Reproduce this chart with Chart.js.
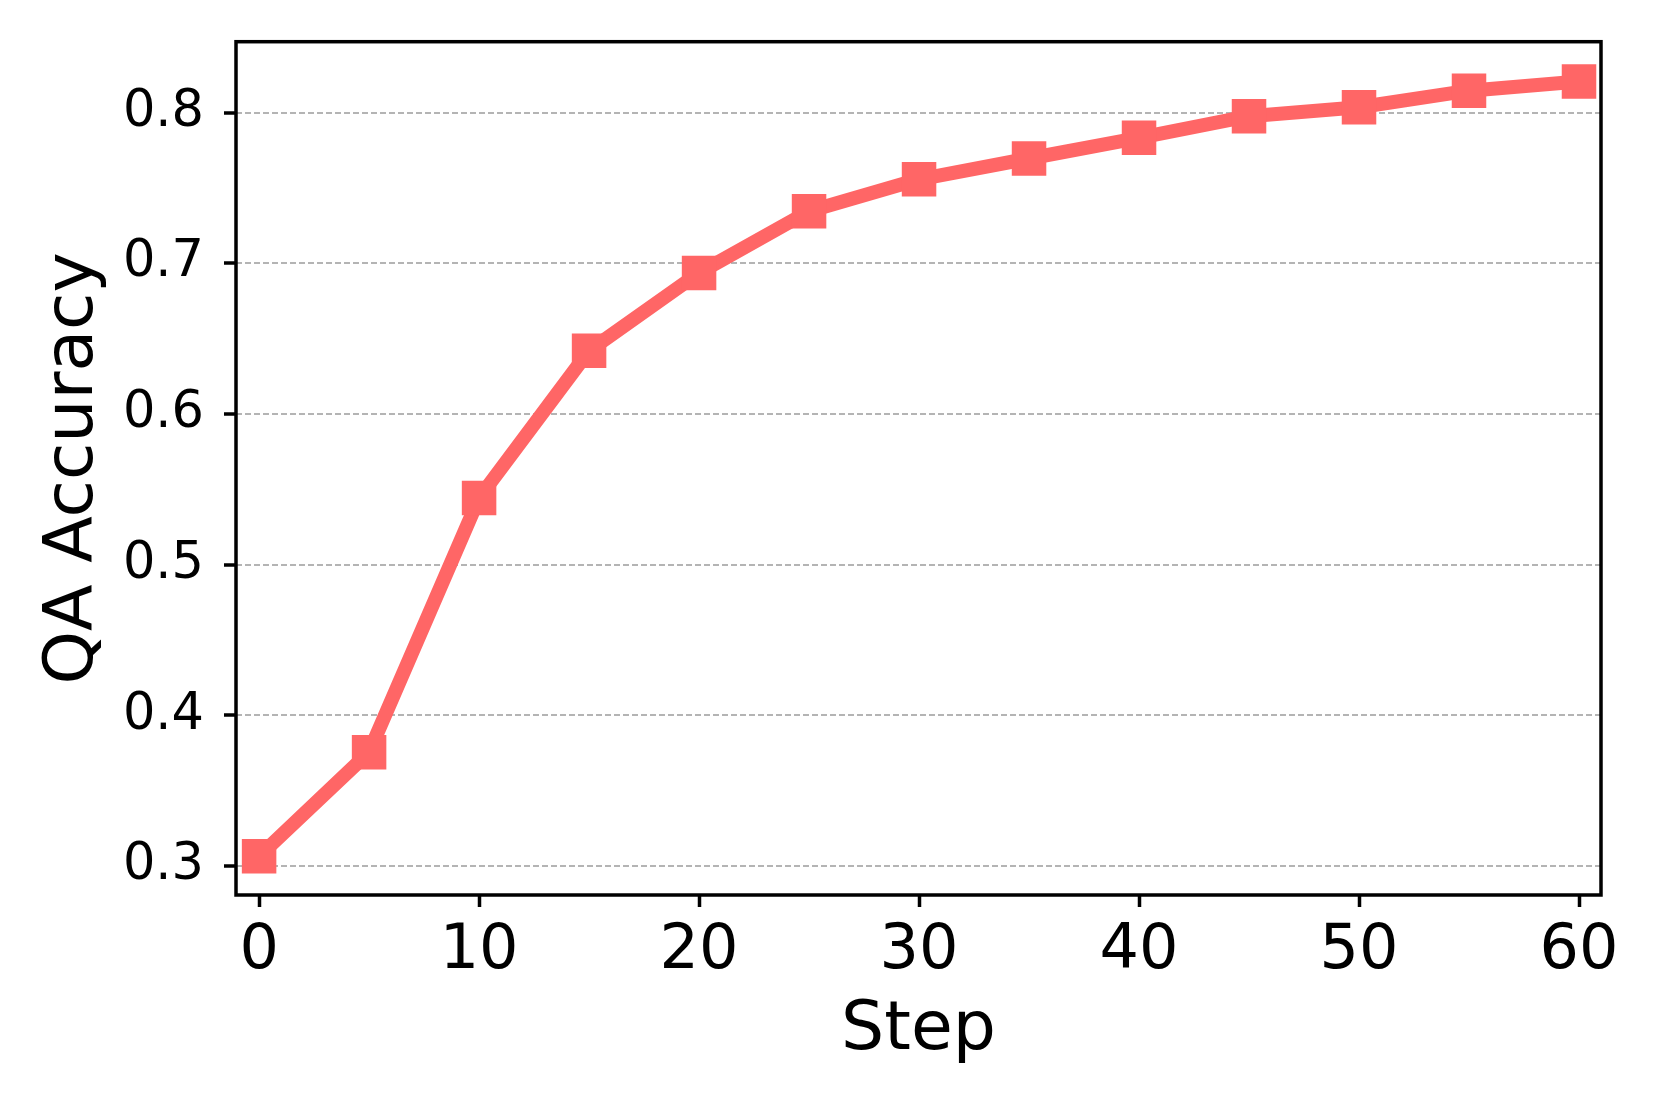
<!DOCTYPE html>
<html>
<head>
<meta charset="utf-8">
<script src="https://cdn.jsdelivr.net/npm/chart.js@4.4.1/dist/chart.umd.min.js"></script>
<style>
  body { margin: 0; background: #fff; }
  #wrap { width: 1661px; height: 1107px; }
</style>
</head>
<body>
<div id="wrap"><canvas id="accChart" width="1661" height="1107"></canvas></div>
<script>
// data
const steps = [0, 5, 10, 15, 20, 25, 30, 35, 40, 45, 50, 55, 60];
const accuracy = [0.3065, 0.3756, 0.5443, 0.6419, 0.6936, 0.7345, 0.7557, 0.7695, 0.7832, 0.7976, 0.8035, 0.8145, 0.8206];
const xTicks = [0, 10, 20, 30, 40, 50, 60];
const yTicks = [0.3, 0.4, 0.5, 0.6, 0.7, 0.8];
const yTickLabels = ['0.3', '0.4', '0.5', '0.6', '0.7', '0.8'];

const FONT = "'DejaVu Sans', sans-serif";

// draws the full box around the plot, like matplotlib spines
const frameBox = {
  id: 'frameBox',
  afterDatasetsDraw(chart) {
    const a = chart.chartArea;
    const ctx = chart.ctx;
    ctx.save();
    ctx.strokeStyle = '#000';
    ctx.lineWidth = 3.5;
    ctx.strokeRect(a.left, a.top, a.right - a.left, a.bottom - a.top);
    ctx.restore();
  }
};

const ctx = document.getElementById('accChart');

new Chart(ctx, {
  type: 'line',
  data: {
    datasets: [{
      label: 'QA Accuracy',
      data: steps.map((s, i) => ({ x: s, y: accuracy[i] })),
      borderColor: '#ff6666',
      backgroundColor: '#ff6666',
      borderWidth: 14,
      borderJoinStyle: 'round',
      tension: 0,
      pointStyle: 'rect',
      pointRadius: 24.4,
      pointHoverRadius: 24.4,
      pointBorderWidth: 0,
      pointBackgroundColor: '#ff6666',
      clip: false
    }]
  },
  options: {
    responsive: false,
    animation: false,
    layout: { padding: { top: 41.7, right: 60, left: 0, bottom: 0 } },
    plugins: {
      legend: { display: false },
      tooltip: { enabled: false }
    },
    scales: {
      x: {
        type: 'linear',
        min: -1.05,
        max: 61,
        afterBuildTicks: (scale) => { scale.ticks = xTicks.map(v => ({ value: v })); },
        afterFit: (scale) => { scale.height = 212; scale.paddingLeft = 0; scale.paddingRight = 0; },
        border: { display: false },
        grid: {
          drawOnChartArea: false,
          drawTicks: true,
          tickLength: 12,
          tickColor: '#000',
          tickWidth: 3.5
        },
        ticks: {
          color: '#000',
          padding: 8,
          maxRotation: 0,
          font: { family: FONT, size: 62 }
        },
        title: {
          display: true,
          text: 'Step',
          color: '#000',
          font: { family: FONT, size: 68 },
          padding: { top: 0, bottom: 35 }
        }
      },
      y: {
        type: 'linear',
        min: 0.2808,
        max: 0.847,
        afterBuildTicks: (scale) => { scale.ticks = yTicks.map(v => ({ value: v })); },
        afterFit: (scale) => { scale.width = 236; scale.paddingTop = 0; scale.paddingBottom = 0; },
        border: { display: false, dash: [6, 3] },
        grid: {
          color: '#b4b4b4',
          lineWidth: 2,
          drawTicks: true,
          tickLength: 12,
          tickColor: '#000',
          tickWidth: 3.5,
          tickBorderDash: []
        },
        ticks: {
          color: '#000',
          padding: 20,
          font: { family: FONT, size: 51 },
          callback: (value) => {
            const i = yTicks.findIndex(t => Math.abs(t - value) < 1e-9);
            return i >= 0 ? yTickLabels[i] : '';
          }
        },
        title: {
          display: true,
          text: 'QA Accuracy',
          color: '#000',
          font: { family: FONT, size: 68 },
          padding: { top: 34, bottom: 0 }
        }
      }
    }
  },
  plugins: [frameBox]
});
</script>
</body>
</html>
